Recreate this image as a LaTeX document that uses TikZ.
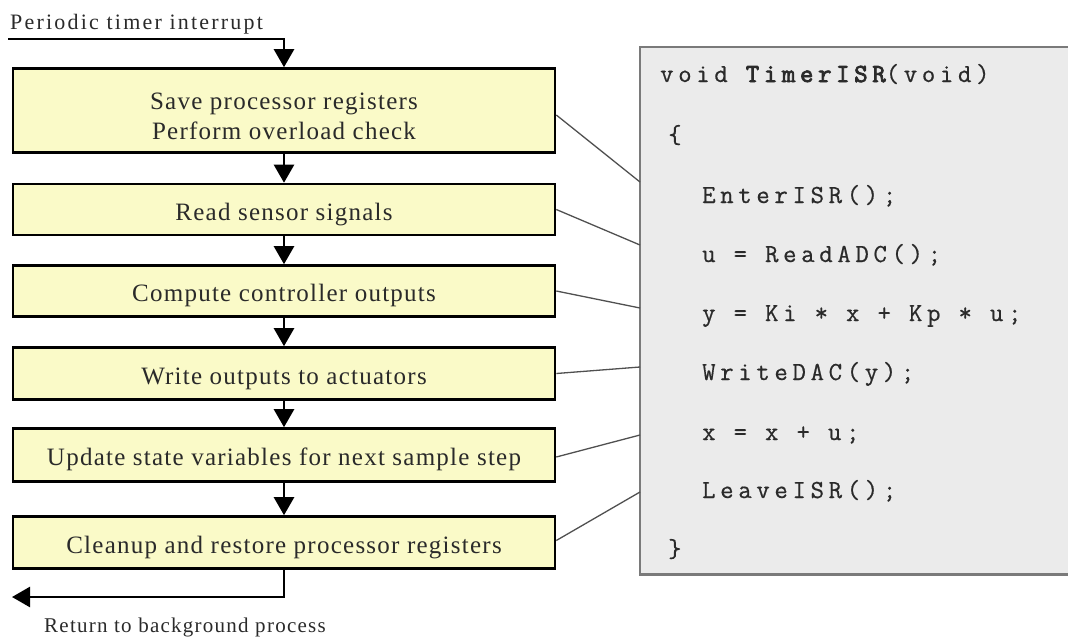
\documentclass[tikz,border=0pt]{standalone}
\usepackage{fontspec}
\setmainfont{Liberation Serif}
\newfontfamily\boxfont[LetterSpace=5]{Liberation Serif}
\newfontfamily\lblfont[LetterSpace=6]{Liberation Serif}
\newfontfamily\toplblfont[LetterSpace=10]{Liberation Serif}
\newfontfamily\codefont[LetterSpace=18,FakeBold=0.6]{Latin Modern Mono}
\newfontfamily\codeboldfont[LetterSpace=18,FakeBold=3]{Latin Modern Mono}
\usetikzlibrary{arrows.meta}
\definecolor{boxfill}{HTML}{FAFAC8}
\definecolor{codefill}{HTML}{EBEBEB}
\definecolor{codeline}{HTML}{7A7A7A}
\definecolor{txt}{HTML}{2A2A2A}
\definecolor{linkc}{HTML}{505050}
\tikzset{
  stepbox/.style={draw=black, line width=2.6pt, fill=boxfill, minimum width=542pt,
    inner sep=0pt, align=center, text height=27pt, text depth=5.5pt,
    font=\boxfont\fontsize{25}{30}\selectfont, text=txt},
  flow/.style={line width=2.6pt, -{Triangle[length=18pt,width=20pt]}},
  link/.style={draw=linkc, line width=1.3pt},
  codetxt/.style={anchor=base west, inner sep=0pt, font=\codefont\fontsize{26}{26}\selectfont, text=txt},
  lbl/.style={inner sep=0pt, font=\lblfont\fontsize{21}{21}\selectfont, text=txt}
}
\begin{document}
\begin{tikzpicture}[x=1pt,y=-1pt]
\useasboundingbox (0,0) rectangle (1068,637);
% code panel
\node[fill=codefill, minimum width=428pt, minimum height=527pt, inner sep=0pt, anchor=north west] (code) at (640,47) {};
\draw[draw=codeline, line width=2.6pt] (code.north east) -- (code.north west) -- (code.south west) -- (code.south east);
\node[codetxt] (l0) at (660,82) {void {\codeboldfont TimerISR}(void)};
\node[codetxt] (l1) at (668,143) {\{};
\node[codetxt] (l2) at (702,203) {EnterISR();};
\node[codetxt] (l3) at (702,262) {u = ReadADC();};
\node[codetxt] (l4) at (702,321) {y = Ki * x + Kp * u;};
\node[codetxt] (l5) at (702,380) {WriteDAC(y);};
\node[codetxt] (l6) at (702,440) {x = x + u;};
\node[codetxt] (l7) at (702,498) {LeaveISR();};
\node[codetxt] (l8) at (668,557) {\}};
% flow boxes
\node[stepbox, minimum height=84pt, text height=, text depth=] (b1) at (284,110.5)
  {\raisebox{-13.75pt}[0pt][0pt]{\begin{tabular}{@{}c@{}}Save processor registers\\Perform overload check\end{tabular}}};
\node[stepbox, minimum height=51pt] (b2) at (284,209.5) {Read sensor signals};
\node[stepbox, minimum height=51pt] (b3) at (284,291) {Compute controller outputs};
\node[stepbox, minimum height=52pt] (b4) at (284,373.5) {Write outputs to actuators};
\node[stepbox, minimum height=53pt] (b5) at (284,455) {Update state variables for next sample step};
\node[stepbox, minimum height=52pt] (b6) at (284,542.5) {Cleanup and restore processor registers};
% labels
\node[lbl, anchor=base west, font=\toplblfont\fontsize{22}{22}\selectfont] (tin) at (10,29) {Periodic timer interrupt};
\node[lbl, anchor=base west] (tout) at (44,632) {Return to background process};
% flow arrows
\coordinate (in) at (8,39);
\coordinate (out) at (12,597);
\draw[flow] (in) -- (b1.north |- in) -- (b1.north);
\draw[flow] (b1) -- (b2);
\draw[flow] (b2) -- (b3);
\draw[flow] (b3) -- (b4);
\draw[flow] (b4) -- (b5);
\draw[flow] (b5) -- (b6);
\draw[flow] (b6.south) -- (b6.south |- out) -- (out);
% links to code
\coordinate (c1) at (640,182);
\coordinate (c2) at (640,245);
\coordinate (c3) at (640,308);
\coordinate (c4) at (640,367);
\coordinate (c5) at (640,435);
\coordinate (c6) at (640,492);
\draw[link] ([yshift=-4.5pt]b1.east) -- (c1);
\draw[link] (b2.east) -- (c2);
\draw[link] (b3.east) -- (c3);
\draw[link] (b4.east) -- (c4);
\draw[link] ([yshift=-2pt]b5.east) -- (c5);
\draw[link] ([yshift=2pt]b6.east) -- (c6);
\end{tikzpicture}
\end{document}
